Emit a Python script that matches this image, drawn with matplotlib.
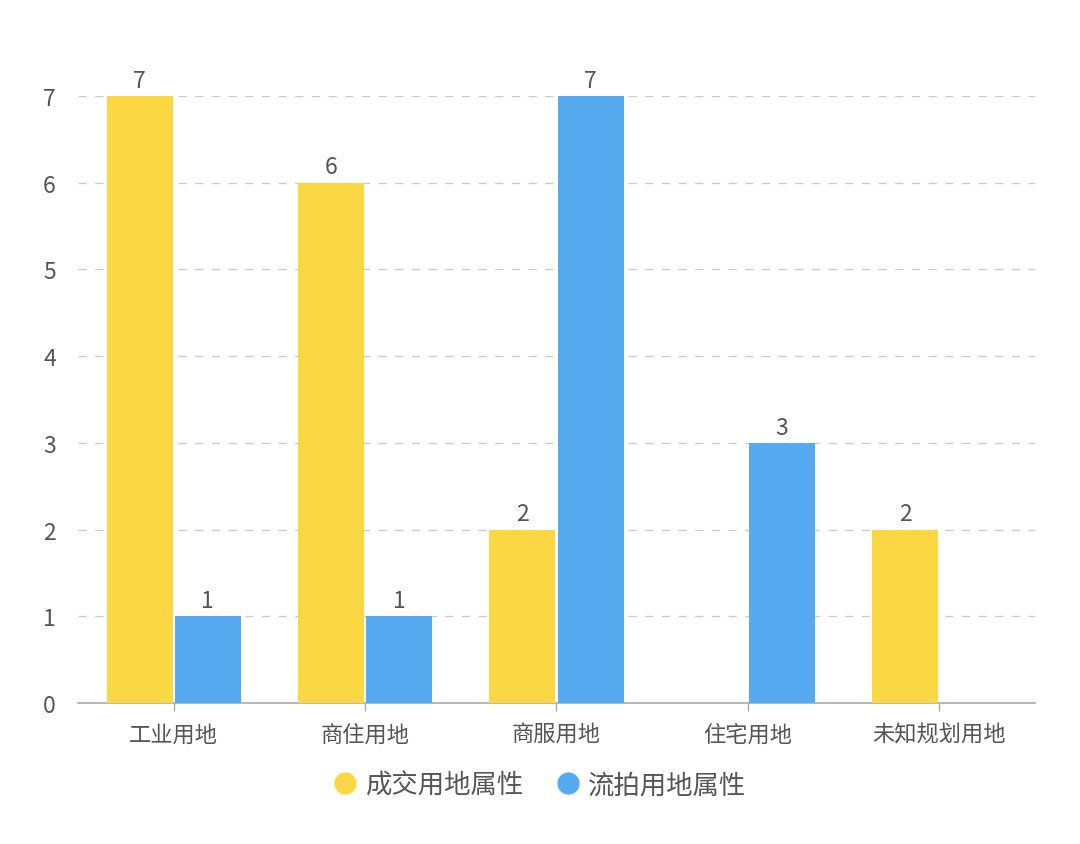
import matplotlib
matplotlib.use("Agg")
import matplotlib.pyplot as plt
import numpy as np
from matplotlib.lines import Line2D

plt.rcParams['font.family'] = ['Noto Sans CJK SC', 'DejaVu Sans']

categories = ['工业用地', '商住用地', '商服用地', '住宅用地', '未知规划用地']
deal_values = [7, 6, 2, 0, 2]
fail_values = [1, 1, 7, 3, 0]
series_names = ['成交用地属性', '流拍用地属性']
yticks = [0, 1, 2, 3, 4, 5, 6, 7]

c_yellow = '#FBD843'
c_blue = '#56ABF0'
c_text = '#555555'

fig = plt.figure(figsize=(10.8, 8.45), dpi=100)
ax = fig.add_axes([0.0722, 0.1669, 0.8861, 0.7183])

x = np.arange(len(categories))
w = 0.345
off = 0.178
b1 = ax.bar(x - off, deal_values, w, color=c_yellow, zorder=3)
b2 = ax.bar(x + off, fail_values, w, color=c_blue, zorder=3)

for bars, vals in ((b1, deal_values), (b2, fail_values)):
    for rect, v in zip(bars, vals):
        if v:
            ax.text(rect.get_x() + rect.get_width() / 2, v + 0.05, str(v),
                    ha='center', va='bottom', fontsize=16.5, color=c_text, clip_on=False)

ax.set_xlim(-0.5, len(categories) - 0.5)
ax.set_ylim(0, 7)
ax.set_yticks(yticks)
ax.set_xticks(x)
ax.set_xticklabels(categories)
ax.tick_params(axis='y', length=0, pad=16, labelsize=16.5, labelcolor=c_text)
ax.tick_params(axis='x', length=6, width=1, color='#aaaaaa', pad=8, labelsize=16, labelcolor=c_text)

for y in yticks[1:]:
    ax.axhline(y, color='#cccccc', linewidth=1, linestyle=(0, (6, 6)), zorder=1)

for s in ['top', 'right', 'left']:
    ax.spines[s].set_visible(False)
ax.spines['bottom'].set_color('#aaaaaa')
ax.spines['bottom'].set_linewidth(1.2)

handles = [Line2D([0], [0], marker='o', linestyle='', markersize=15, markerfacecolor=c_yellow, markeredgecolor=c_yellow),
           Line2D([0], [0], marker='o', linestyle='', markersize=15, markerfacecolor=c_blue, markeredgecolor=c_blue)]
leg = fig.legend(handles, series_names, loc='center', bbox_to_anchor=(0.5, 1 - 786 / 845), ncol=2,
                 frameon=False, fontsize=19, handlelength=0.8, handletextpad=0.35, columnspacing=1.3)
for t in leg.get_texts():
    t.set_color(c_text)

fig.savefig('out.png', dpi=100, facecolor='white')
